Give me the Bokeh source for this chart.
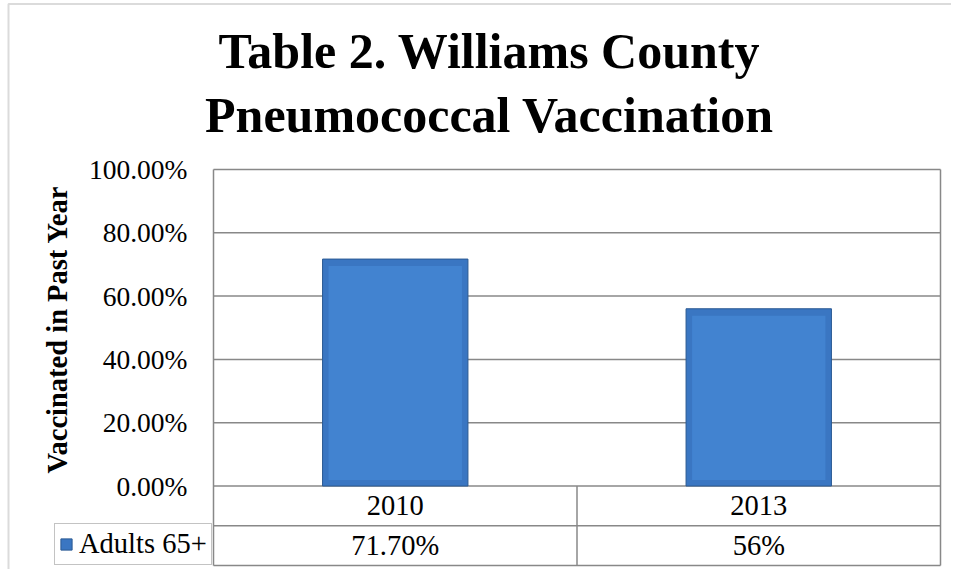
import math
from bokeh.plotting import figure
from bokeh.models import (Range1d, FixedTicker, NumeralTickFormatter, Label, Legend,
                          LegendItem, BoxAnnotation, ColumnDataSource, LinearAxis)
from bokeh.core.properties import value
from bokeh.embed import file_html
from bokeh.resources import INLINE

# ---- data ----
title_lines = ["Table 2. Williams County", "Pneumococcal Vaccination"]
y_axis_title = "Vaccinated in Past Year"
categories = ["2010", "2013"]
series_name = "Adults 65+"
values = [0.717, 0.56]
value_labels = ["71.70%", "56%"]
y_ticks = [0.0, 0.2, 0.4, 0.6, 0.8, 1.0]

# ---- layout / style (pixels) ----
W, H = 951, 569
PLOT_L, PLOT_R, PLOT_T, PLOT_B = 213, 940, 169, 485.5
ROW_PX = 39.75
FONT = "Liberation Serif"
GRID = "#888888"
BAR = "#3a76c2"
BAR_IN = "#4283d0"
BAR_LINE = "#2b5a93"

n = len(categories)
upx = n / (PLOT_R - PLOT_L)
x_start = -0.5 - PLOT_L * upx
x_end = x_start + W * upx
upy = 1.0 / (PLOT_B - PLOT_T)
y_end = 1.0 + PLOT_T * upy
y_start = y_end - H * upy
ROW = ROW_PX * upy
x_lo, x_hi = -0.5, n - 0.5
tbl_bottom = -2 * ROW

xs = list(range(n))
src = ColumnDataSource(dict(x=xs, top=values, cat=categories, lab=value_labels))

p = figure(width=W, height=H, output_backend="svg", toolbar_location=None,
           x_range=Range1d(x_start, x_end), y_range=Range1d(y_start, y_end),
           x_axis_location=None, y_axis_location=None, min_border=0)
p.background_fill_color = "white"
p.border_fill_color = "white"
p.outline_line_color = None
p.grid.visible = False

# y axis at the left edge of the plot area
yax = LinearAxis(fixed_location=x_lo, bounds=(0, 1),
                 ticker=FixedTicker(ticks=y_ticks),
                 formatter=NumeralTickFormatter(format="0.00%"),
                 axis_line_color=None, major_tick_line_color=None,
                 minor_tick_line_color=None, major_label_standoff=20,
                 major_label_text_font=FONT, major_label_text_font_size="27.5px",
                 major_label_text_color="black")
p.add_layout(yax, "left")

# gridlines (from the tick values) and plot/table frame
p.segment(x0=x_lo, x1=x_hi, y0=y_ticks, y1=y_ticks, line_color=GRID, line_width=1.5)
p.segment(x0=[x_lo, x_hi], x1=[x_lo, x_hi], y0=1.0, y1=tbl_bottom,
          line_color=GRID, line_width=1.5)
p.segment(x0=x_lo, x1=x_hi, y0=[-ROW, tbl_bottom], y1=[-ROW, tbl_bottom],
          line_color=GRID, line_width=1.5)
mids = [(a + b) / 2 for a, b in zip(xs[:-1], xs[1:])]
p.segment(x0=mids, x1=mids, y0=0, y1=tbl_bottom, line_color=GRID, line_width=1.5)

# bars (outer bevel + lighter face)
bars = p.vbar(x="x", top="top", width=0.4, source=src,
              fill_color=BAR, line_color=BAR_LINE, line_width=1)
face = ColumnDataSource(dict(x=xs, top=[v - 7 * upy for v in values]))
p.vbar(x="x", top="top", bottom=6 * upy, width=0.4 - 12 * upx, source=face,
       fill_color=BAR_IN, line_color=None)

# data table texts
p.text(x="x", y=-ROW / 2, text="cat", source=src, text_font=value(FONT),
       text_font_size="28.5px", text_align="center", text_baseline="middle",
       text_color="black")
p.text(x="x", y=-1.5 * ROW, text="lab", source=src, text_font=value(FONT),
       text_font_size="28.5px", text_align="center", text_baseline="middle",
       text_color="black")

legend = Legend(items=[LegendItem(label=series_name, renderers=[bars])],
                location=(54, H - 565), margin=0, padding=4, spacing=0,
                glyph_width=14, glyph_height=14, label_standoff=6,
                label_text_font=FONT, label_text_font_size="28.5px",
                label_text_color="black",
                border_line_color=GRID, border_line_width=1.5,
                background_fill_color="white", background_fill_alpha=1)
p.add_layout(legend, "center")

# y axis title
p.add_layout(Label(x=57, y=H - 329, x_units="screen", y_units="screen",
                   text=y_axis_title, angle=math.pi / 2, text_align="center",
                   text_baseline="middle", text_font=FONT, text_font_style="bold",
                   text_font_size="28.5px", text_color="black"))

# chart title
for i, line in enumerate(title_lines):
    p.add_layout(Label(x=489, y=H - 50 - 64 * i, x_units="screen", y_units="screen",
                       text=line, text_align="center", text_baseline="alphabetic",
                       text_font=FONT, text_font_style="bold",
                       text_font_size="50px", text_color="black"))

# outer chart border
p.add_layout(BoxAnnotation(left=8, right=W + 20, top=H - 3.5, bottom=-20,
                           left_units="screen", right_units="screen",
                           top_units="screen", bottom_units="screen",
                           fill_alpha=0, line_color=GRID, line_width=2))

open("out.html", "w").write(file_html(p, INLINE))
